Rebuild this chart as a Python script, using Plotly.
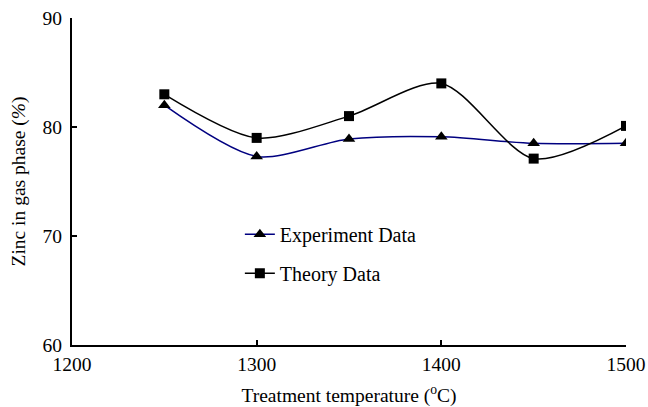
import plotly.graph_objects as go

temps = [1250, 1300, 1350, 1400, 1450, 1500]
experiment = [82.0, 77.3, 78.9, 79.1, 78.5, 78.5]
theory = [83.0, 79.0, 81.0, 84.0, 77.1, 80.1]

font = "Liberation Serif"
fs = 19.5

fig = go.Figure()
fig.add_trace(go.Scatter(
    x=temps, y=experiment, name="Experiment Data", mode="lines+markers",
    line=dict(color="#000080", width=1.5, shape="spline", smoothing=0.8),
    marker=dict(symbol="triangle-up", size=11, color="black"),
    legendgroup="a"))
fig.add_trace(go.Scatter(
    x=temps, y=theory, name="Theory Data", mode="lines+markers",
    line=dict(color="black", width=1.5, shape="spline", smoothing=0.8),
    marker=dict(symbol="square", size=10, color="black"),
    legendgroup="b"))

fig.update_layout(
    width=648, height=407,
    margin=dict(l=72, r=22, t=18, b=62),
    paper_bgcolor="white", plot_bgcolor="white",
    font=dict(family=font, size=fs, color="black"),
    showlegend=True,
    legend=dict(x=0.303, y=0.398, xanchor="left", yanchor="top",
                bgcolor="rgba(0,0,0,0)", font=dict(size=20, family=font),
                tracegroupgap=10),
    xaxis=dict(range=[1200, 1500], tickvals=[1200, 1300, 1400, 1500],
               showgrid=False, zeroline=False, showline=True, linecolor="black",
               linewidth=2, ticks="inside", ticklen=5, tickwidth=1.5, tickcolor="black",
               tickfont=dict(family=font, size=fs), automargin=False,
               ticklabelstandoff=1,
               title=dict(text="Treatment temperature (<sup>o</sup>C)",
                          font=dict(family=font, size=fs), standoff=24)),
    yaxis=dict(range=[60, 90], tickvals=[60, 70, 80, 90],
               showgrid=False, zeroline=False, showline=True, linecolor="black",
               linewidth=2, ticks="inside", ticklen=5, tickwidth=1.5, tickcolor="black",
               tickfont=dict(family=font, size=fs), automargin=False,
               ticklabelstandoff=4,
               title=dict(text="Zinc in gas phase (<i>%</i>)",
                          font=dict(family=font, size=fs), standoff=12)),
)

# remove the page body's default 8px margin so the figure sits at the window's corner
fig.write_html("out.html", config={"displayModeBar": False},
               post_script="document.body.style.margin='0';")
